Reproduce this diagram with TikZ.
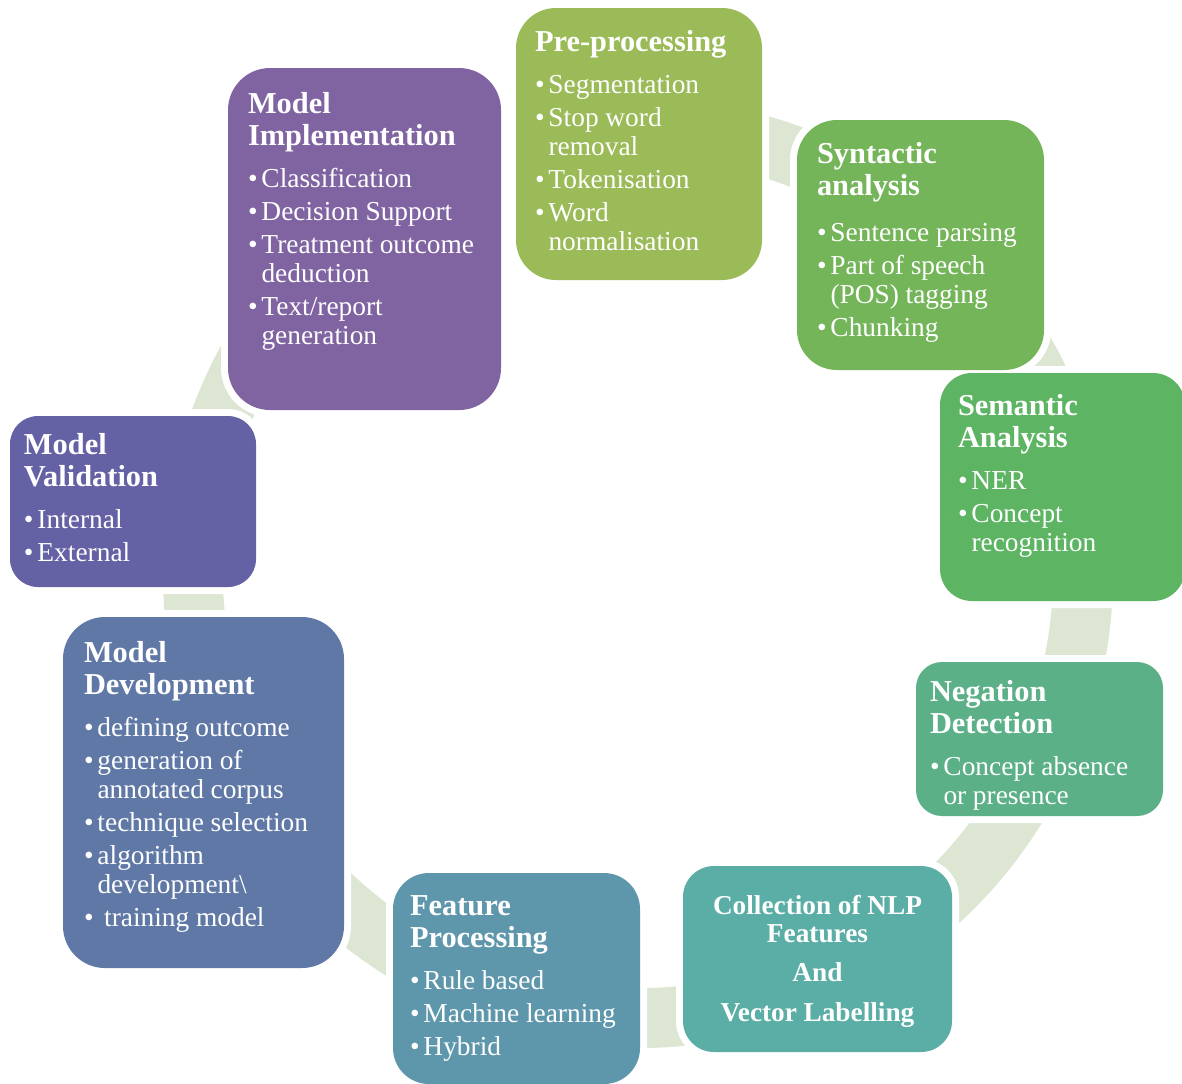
\documentclass[tikz,border=0pt]{standalone}
\usepackage{fontspec}
\setmainfont{Liberation Serif}
\usetikzlibrary{calc}

\pgfdeclarelayer{ring}
\pgfdeclarelayer{halo}
\pgfsetlayers{ring,halo,main}

\definecolor{cPre}{HTML}{9BBB59}
\definecolor{cSyn}{HTML}{74B55A}
\definecolor{cSem}{HTML}{5DB463}
\definecolor{cNeg}{HTML}{5BB088}
\definecolor{cCol}{HTML}{5AAEA5}
\definecolor{cFeat}{HTML}{5E97AB}
\definecolor{cDev}{HTML}{6078A6}
\definecolor{cVal}{HTML}{6561A5}
\definecolor{cImpl}{HTML}{8064A2}
\definecolor{cRing}{HTML}{DDE6D3}

% fonts: stage titles, bullet text, centred stage text
\newcommand\ttl{\bfseries\fontsize{15.2pt}{16.25pt}\selectfont}
\newcommand\bod{\normalfont\fontsize{13.7pt}{14.5pt}\selectfont}
\newcommand\ctl{\bfseries\fontsize{13.65pt}{14pt}\selectfont}
% one bullet item with hanging indent
\newcommand\itm[1]{\par\vspace{2pt}\hangindent=6.75pt\hangafter=1\noindent\makebox[6.75pt][l]{\textbullet}#1\par}
\newcommand\ttlgap[1][4.5pt]{\par\vspace{#1}}

\begin{document}
\begin{tikzpicture}[x=0.5pt, y=-0.5pt,
  stage/.style={rectangle, inner sep=0pt, outer sep=0pt},
  stagetext/.style={text=white, inner sep=0pt, outer sep=0pt, anchor=north west, text width=125pt},
]
\useasboundingbox (0,0) rectangle (1182,1083);
\coordinate (rc) at (638,573);

% stage boxes
\node[stage, fill=cPre,  rounded corners=20pt,   minimum width=123pt,   minimum height=136pt]   (pre)  at (639,144) {};
\node[stage, fill=cSyn,  rounded corners=20pt,   minimum width=123.5pt, minimum height=125pt]   (syn)  at (920.5,245) {};
\node[stage, fill=cSem,  rounded corners=16pt,   minimum width=122.5pt, minimum height=114pt]   (sem)  at (1062.5,487) {};
\node[stage, fill=cNeg,  rounded corners=13pt,   minimum width=123.5pt, minimum height=77pt]    (neg)  at (1039.5,739) {};
\node[stage, fill=cCol,  rounded corners=15.5pt, minimum width=134.5pt, minimum height=93pt]    (col)  at (817.5,959) {};
\node[stage, fill=cFeat, rounded corners=18pt,   minimum width=123.5pt, minimum height=105.5pt] (feat) at (516.5,978.5) {};
\node[stage, fill=cDev,  rounded corners=21pt,   minimum width=140.5pt, minimum height=175.5pt] (dev)  at (203.5,792.5) {};
\node[stage, fill=cVal,  rounded corners=14pt,   minimum width=123pt,   minimum height=85.5pt]  (val)  at (133,501.5) {};
\node[stage, fill=cImpl, rounded corners=21pt,   minimum width=136.5pt, minimum height=171pt]   (impl) at (364.5,239) {};

% cycle band behind the boxes
\begin{pgfonlayer}{ring}
\fill[cRing] ($(rc)+(256:475)$) arc[start angle=256, end angle=610, radius=475]
  -- ($(rc)+(610:415)$) arc[start angle=610, end angle=256, radius=415] -- cycle;
\end{pgfonlayer}

% white outlines separating boxes from the band
\begin{pgfonlayer}{halo}
\foreach \n/\r in {pre/20pt, syn/20pt, sem/16pt, neg/13pt, col/15.5pt, feat/18pt, dev/21pt, val/14pt, impl/21pt}
  \draw[white, line width=7pt, rounded corners=\r] (\n.north west) rectangle (\n.south east);
\end{pgfonlayer}

% stage texts
\node[stagetext] (preT) at ([shift={(19,20.25)}]pre.north west)
  {\ttl\strut Pre-processing\ttlgap\bod
   \itm{Segmentation}\itm{Stop word\newline removal}\itm{Tokenisation}\itm{Word\newline normalisation}};
\node[stagetext] (synT) at ([shift={(20,20.25)}]syn.north west)
  {\ttl\strut Syntactic\par analysis\ttlgap[6.5pt]\bod
   \itm{Sentence parsing}\itm{Part of speech\newline (POS) tagging}\itm{Chunking}};
\node[stagetext] (semT) at ([shift={(18,19.25)}]sem.north west)
  {\ttl\strut Semantic\par Analysis\ttlgap\bod
   \itm{NER}\itm{Concept\newline recognition}};
\node[stagetext] (negT) at ([shift={(14,16.25)}]neg.north west)
  {\ttl\strut Negation\par Detection\ttlgap\bod
   \itm{Concept absence\newline or presence}};
\node[text=white, inner sep=0pt, outer sep=0pt, anchor=north, text width=130pt] (colT) at ([shift={(0,28.4)}]col.north)
  {\centering\ctl\strut Collection of NLP\par Features\par\vspace{5.75pt}And\par\vspace{5.75pt}Vector Labelling\par};
\node[stagetext] (featT) at ([shift={(17,19.25)}]feat.north west)
  {\ttl\strut Feature\par Processing\ttlgap\bod
   \itm{Rule based}\itm{Machine learning}\itm{Hybrid}};
\node[stagetext] (devT) at ([shift={(21,22.25)}]dev.north west)
  {\ttl\strut Model\par Development\ttlgap\bod
   \itm{defining outcome}\itm{generation of\newline annotated corpus}\itm{technique selection}
   \itm{algorithm\newline development\textbackslash}\itm{\ training model}};
\node[stagetext] (valT) at ([shift={(14,15.25)}]val.north west)
  {\ttl\strut Model\par Validation\ttlgap\bod
   \itm{Internal}\itm{External}};
\node[stagetext] (implT) at ([shift={(20,22.25)}]impl.north west)
  {\ttl\strut Model\par Implementation\ttlgap\bod
   \itm{Classification}\itm{Decision Support}\itm{Treatment outcome\newline deduction}\itm{Text/report\newline generation}};
\end{tikzpicture}
\end{document}
